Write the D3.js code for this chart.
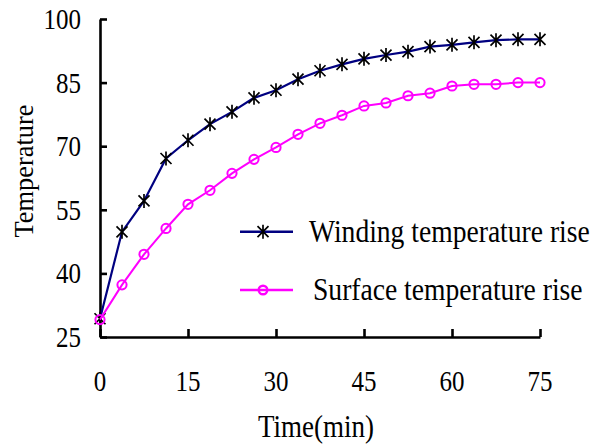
<!DOCTYPE html>
<html>
<head>
<meta charset="utf-8">
<script src="https://cdn.jsdelivr.net/npm/d3@7"></script>
<style>
  body { margin: 0; background: #fff; }
  text { font-family: "Liberation Serif", "Times New Roman", serif; fill: #000; }
</style>
</head>
<body>
<div id="chart"></div>
<script>
// data
var times = [0, 3.75, 7.5, 11.25, 15, 18.75, 22.5, 26.25, 30, 33.75, 37.5, 41.25, 45, 48.75, 52.5, 56.25, 60, 63.75, 67.5, 71.25, 75];
var winding = [29.3, 49.8, 57.1, 67.1, 71.4, 75.2, 78.1, 81.4, 83.2, 85.8, 87.8, 89.3, 90.6, 91.5, 92.3, 93.5, 93.9, 94.5, 95.0, 95.2, 95.2];
var surface = [29.1, 37.3, 44.5, 50.6, 56.3, 59.6, 63.6, 66.9, 69.7, 72.8, 75.4, 77.3, 79.5, 80.2, 81.9, 82.5, 84.2, 84.6, 84.6, 85.0, 85.0];
var xTicks = [0, 15, 30, 45, 60, 75];
var yTicks = [25, 40, 55, 70, 85, 100];
var seriesNames = ["Winding temperature rise", "Surface temperature rise"];

var W = 592, H = 444;
var stretch = 1.17; // text in the picture looks a bit tall

var svg = d3.select("#chart")
    .append("svg")
    .attr("width", W)
    .attr("height", H);

var x = d3.scaleLinear().domain([0, 75]).range([100, 540]);
var y = d3.scaleLinear().domain([25, 100]).range([337, 19]);

// axes, ticks pointing inward
var xAxis = svg.append("g")
    .attr("transform", "translate(0," + y(25) + ")")
    .call(d3.axisBottom(x).tickValues(xTicks).tickSize(-8).tickSizeOuter(0).tickFormat(""));
var yAxis = svg.append("g")
    .attr("transform", "translate(" + x(0) + ",0)")
    .call(d3.axisLeft(y).tickValues(yTicks).tickSize(-7).tickSizeOuter(0).tickFormat(""));

[xAxis, yAxis].forEach(function(a) {
    a.select(".domain").attr("stroke", "#000").attr("stroke-width", 2.6);
    a.selectAll(".tick line").attr("stroke", "#000").attr("stroke-width", 2.6);
});

// tick labels
svg.selectAll("text.ylab")
    .data(yTicks)
    .enter()
    .append("text")
    .attr("class", "ylab")
    .attr("text-anchor", "end")
    .attr("font-size", 25)
    .attr("transform", function(d) { return "translate(81," + (y(d) + 9.9) + ") scale(1," + stretch + ")"; })
    .text(function(d) { return d; });

svg.selectAll("text.xlab")
    .data(xTicks)
    .enter()
    .append("text")
    .attr("class", "xlab")
    .attr("text-anchor", "middle")
    .attr("font-size", 25)
    .attr("transform", function(d) { return "translate(" + x(d) + ",391) scale(1," + stretch + ")"; })
    .text(function(d) { return d; });

// axis titles
svg.append("text")
    .attr("text-anchor", "middle")
    .attr("font-size", 27)
    .attr("transform", "translate(316,437) scale(1," + stretch + ")")
    .text("Time(min)");

svg.append("text")
    .attr("text-anchor", "middle")
    .attr("font-size", 26.4)
    .attr("transform", "translate(33,171) rotate(-90)")
    .text("Temperature");

var starPath = "M0,-7V7M-5.5,-5.5L5.5,5.5M-5.5,5.5L5.5,-5.5";

var line = d3.line()
    .x(function(d, i) { return x(times[i]); })
    .y(function(d) { return y(d); });

// winding
svg.append("path")
    .datum(winding)
    .attr("d", line)
    .attr("fill", "none")
    .attr("stroke", "#000080")
    .attr("stroke-width", 2.2);

svg.selectAll("path.star")
    .data(winding)
    .enter()
    .append("path")
    .attr("class", "star")
    .attr("d", starPath)
    .attr("transform", function(d, i) { return "translate(" + x(times[i]) + "," + y(d) + ")"; })
    .attr("stroke", "#000")
    .attr("stroke-width", 1.7)
    .attr("fill", "none");

// surface
svg.append("path")
    .datum(surface)
    .attr("d", line)
    .attr("fill", "none")
    .attr("stroke", "#ff00ff")
    .attr("stroke-width", 2);

svg.selectAll("circle.pt")
    .data(surface)
    .enter()
    .append("circle")
    .attr("class", "pt")
    .attr("cx", function(d, i) { return x(times[i]); })
    .attr("cy", function(d) { return y(d); })
    .attr("r", 4.6)
    .attr("fill", "none")
    .attr("stroke", "#ff00ff")
    .attr("stroke-width", 2);

// legend
var leg = svg.append("g");
var legY = [231.7, 290];
var legTextX = [309, 313];

leg.selectAll("line")
    .data(seriesNames)
    .enter()
    .append("line")
    .attr("x1", 240)
    .attr("x2", 293)
    .attr("y1", function(d, i) { return legY[i]; })
    .attr("y2", function(d, i) { return legY[i]; })
    .attr("stroke", function(d, i) { return i == 0 ? "#000080" : "#ff00ff"; })
    .attr("stroke-width", 2.4);

leg.append("path")
    .attr("d", starPath)
    .attr("transform", "translate(263," + legY[0] + ")")
    .attr("stroke", "#000")
    .attr("stroke-width", 1.7)
    .attr("fill", "none");

leg.append("circle")
    .attr("cx", 263)
    .attr("cy", legY[1])
    .attr("r", 4.3)
    .attr("fill", "none")
    .attr("stroke", "#ff00ff")
    .attr("stroke-width", 2.4);

leg.selectAll("text")
    .data(seriesNames)
    .enter()
    .append("text")
    .attr("font-size", 27.6)
    .attr("transform", function(d, i) { return "translate(" + legTextX[i] + "," + (legY[i] + 10) + ") scale(1," + stretch + ")"; })
    .text(function(d) { return d; });
</script>
</body>
</html>
